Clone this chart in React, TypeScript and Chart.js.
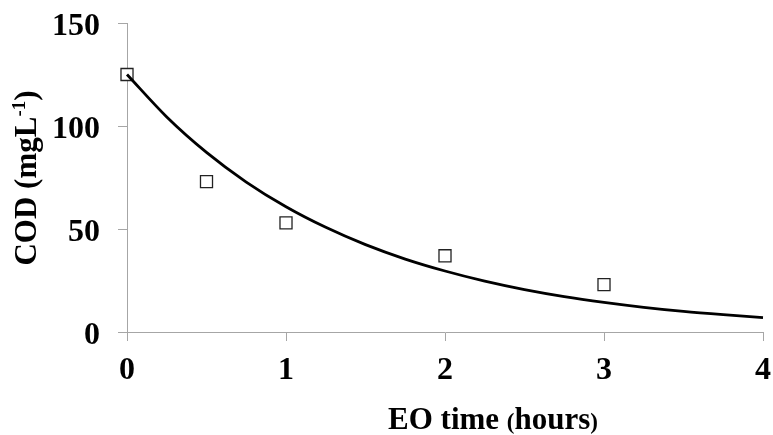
import { useEffect, useRef } from 'react';
import { Chart, registerables } from 'chart.js';

Chart.register(...registerables);

// Measured samples (square markers)
const sampleTimes = [0, 0.5, 1, 2, 3];
const sampleCOD = [125, 73, 53, 37, 23];

// Fitted curve, every 0.25 h
const fitTimes = [0, 0.25, 0.5, 0.75, 1, 1.25, 1.5, 1.75, 2, 2.25, 2.5, 2.75, 3, 3.25, 3.5, 3.75, 4];
const fitCOD = [125, 104.4, 87.2, 72.8, 60.8, 50.8, 42.4, 35.4, 29.6, 24.7, 20.6, 17.2, 14.4, 12.0, 10.0, 8.4, 7.0];

// Tick labels
const xTickValues = [0, 1, 2, 3, 4];
const yTickValues = [0, 50, 100, 150];

const FONT = "'Liberation Serif', 'Times New Roman', serif";
const AXIS_GRAY = '#a6a6a6';

const titlePlugin = {
  id: 'customTitles',
  afterDraw(chart: any) {
    const ctx = chart.ctx as CanvasRenderingContext2D;
    ctx.save();
    ctx.fillStyle = '#000';
    ctx.textBaseline = 'alphabetic';
    ctx.textAlign = 'left';

    // X title: "EO time (hours)" with small parentheses
    const big = `bold 31px ${FONT}`;
    const small = `bold 23px ${FONT}`;
    const parts: [string, string][] = [
      ['EO time ', big],
      ['(', small],
      ['hours', big],
      [')', small],
    ];
    let total = 0;
    for (const [t, f] of parts) { ctx.font = f; total += ctx.measureText(t).width; }
    let x = 493 - total / 2;
    const baseY = 429;
    for (const [t, f] of parts) {
      ctx.font = f;
      ctx.fillText(t, x, baseY);
      x += ctx.measureText(t).width;
    }

    // Y title: "COD (mgL-1)" rotated, with superscript -1
    ctx.save();
    const ySegs: [string, string, number][] = [
      ['COD (mgL', big, 0],
      ['-1', `bold 19px ${FONT}`, -11],
      [')', big, 0],
    ];
    let yw = 0;
    for (const [t, f] of ySegs) { ctx.font = f; yw += ctx.measureText(t).width; }
    ctx.translate(36, 178 + yw / 2);
    ctx.rotate(-Math.PI / 2);
    let px = 0;
    for (const [t, f, dy] of ySegs) {
      ctx.font = f;
      ctx.fillText(t, px, dy);
      px += ctx.measureText(t).width;
    }
    ctx.restore();
    ctx.restore();
  },
};

export default function App() {
  const ref = useRef<HTMLCanvasElement | null>(null);

  useEffect(() => {
    if (!ref.current) return;
    const chart = new Chart(ref.current, {
      type: 'scatter',
      data: {
        datasets: [
          {
            label: 'fit',
            data: fitTimes.map((t, i) => ({ x: t, y: fitCOD[i] })),
            showLine: true,
            borderColor: '#000',
            borderWidth: 2.8,
            pointRadius: 0,
            tension: 0.4,
            cubicInterpolationMode: 'monotone',
            fill: false,
            clip: false,
          },
          {
            label: 'COD',
            data: sampleTimes.map((t, i) => ({ x: t, y: sampleCOD[i] })),
            pointStyle: 'rect',
            pointRadius: 8.5,
            pointBackgroundColor: '#fff',
            pointBorderColor: '#222',
            pointBorderWidth: 1.3,
            showLine: false,
            clip: false,
          },
        ],
      },
      options: {
        responsive: false,
        animation: false,
        devicePixelRatio: 1,
        layout: { padding: { top: 23, right: 10, left: 0, bottom: 0 } },
        plugins: {
          legend: { display: false },
          tooltip: { enabled: false },
          title: { display: false },
        },
        scales: {
          x: {
            type: 'linear',
            min: 0,
            max: 4,
            afterBuildTicks: (s: any) => { s.ticks = xTickValues.map((v) => ({ value: v })); },
            afterFit: (s: any) => {
              s.height = 103;
              s.paddingLeft = 0;
              s.paddingRight = 0;
              s.paddingTop = 0;
              s.paddingBottom = 0;
            },
            border: { display: true, color: AXIS_GRAY, width: 1 },
            grid: { drawOnChartArea: false, drawTicks: true, tickLength: 9, color: AXIS_GRAY, lineWidth: 1 },
            ticks: {
              padding: 11,
              color: '#000',
              font: { family: FONT, size: 32, weight: 'bold' },
              maxRotation: 0,
              callback: (v: any) => String(v),
            },
            title: { display: false },
          },
          y: {
            type: 'linear',
            min: 0,
            max: 150,
            afterBuildTicks: (s: any) => { s.ticks = yTickValues.map((v) => ({ value: v })); },
            afterFit: (s: any) => {
              s.width = 127;
              s.paddingLeft = 0;
              s.paddingRight = 0;
              s.paddingTop = 0;
              s.paddingBottom = 0;
            },
            border: { display: true, color: AXIS_GRAY, width: 1 },
            grid: { drawOnChartArea: false, drawTicks: true, tickLength: 9, color: AXIS_GRAY, lineWidth: 1 },
            ticks: {
              padding: 18,
              labelOffset: 4,
              color: '#000',
              font: { family: FONT, size: 32, weight: 'bold' },
              callback: (v: any) => String(v),
            },
            title: { display: false },
          },
        },
      } as any,
      plugins: [titlePlugin],
    });
    return () => chart.destroy();
  }, []);

  return (
    <div style={{ position: 'absolute', left: 0, top: 0, width: 773, height: 435, background: '#fff' }}>
      <canvas ref={ref} width={773} height={435} />
    </div>
  );
}
